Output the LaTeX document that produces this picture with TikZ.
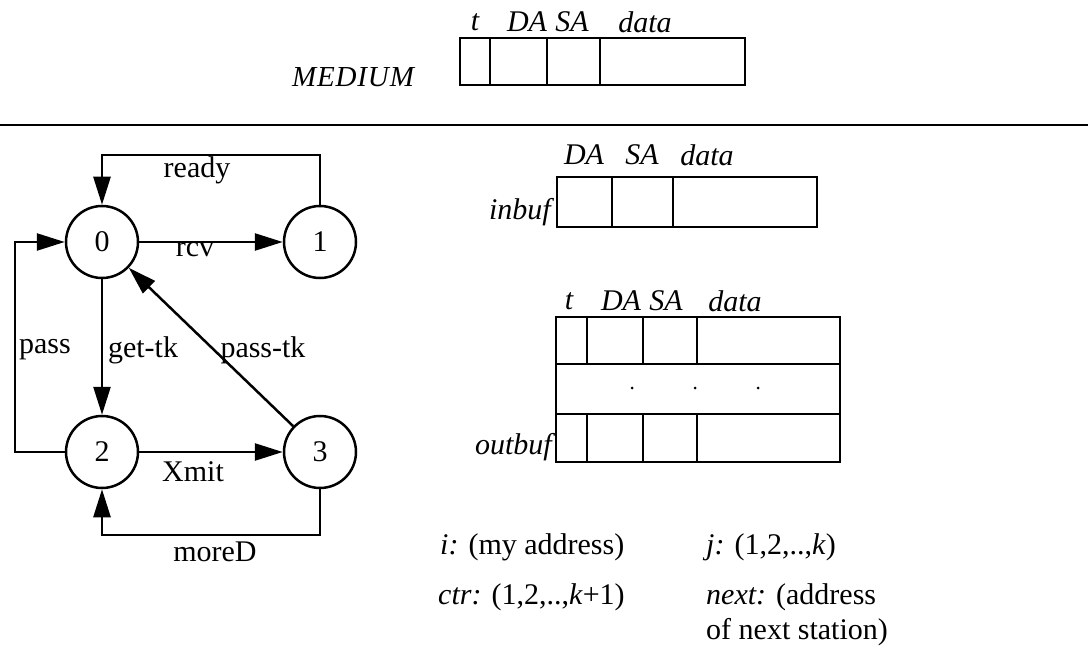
\documentclass[tikz,border=0pt]{standalone}
\usepackage{fontspec}
\setmainfont{Liberation Serif}
\newfontfamily\spacedit[LetterSpace=3]{Liberation Serif}
\usetikzlibrary{arrows.meta}
\begin{document}
\begin{tikzpicture}[x=1pt,y=-1pt,
  txt/.style={font=\fontsize{30}{35}\selectfont, inner sep=0pt},
  itx/.style={font=\fontsize{30}{35}\selectfont\itshape, inner sep=0pt},
  state/.style={circle,draw,line width=2.5pt,minimum size=72pt,inner sep=0pt,font=\fontsize{30}{35}\selectfont},
  arr/.style={line width=2.5pt,-{Triangle[length=28pt,width=17pt]}},
  ln/.style={line width=2.5pt},
  fbox/.style={draw,line width=2.5pt}]
\useasboundingbox (0,0) rectangle (1088,655);

% ---------- top: medium ----------
\node[itx] (medl) at (353,77) {\fontsize{29}{35}\spacedit\itshape MEDIUM};
\draw[fbox] (460,38) rectangle (745,85);
\draw[ln] (490,38) -- (490,85) (547,38) -- (547,85) (600,38) -- (600,85);
\node[itx] (mt) at (475,22) {t};
\node[itx] (mda) at (527,22) {DA};
\node[itx] (msa) at (572,22) {SA};
\node[itx] (mdata) at (645,22) {data};

\draw[ln] (0,125) -- (1088,125);

% ---------- state machine ----------
\node[state] (n0) at (102,242) {0};
\node[state] (n1) at (320,242) {1};
\node[state] (n2) at (102,452) {2};
\node[state] (n3) at (320,452) {3};
\coordinate (top) at (0,155);
\coordinate (lft) at (15,0);
\coordinate (bot) at (0,535);

\draw[arr] (n1.north) -- (n1.north |- top) -- (n0.north |- top) -- (n0.north);
\draw[arr] (n0) -- (n1);
\draw[arr] (n2.west) -- (n2.west -| lft) -- (n0.west -| lft) -- (n0.west);
\draw[arr] (n0) -- (n2);
\draw[arr] (n3) -- (n0);
\draw[arr] (n2) -- (n3);
\draw[arr] (n3.south) -- (n3.south |- bot) -- (n2.south |- bot) -- (n2.south);

\node[txt] (lready) at (197,170) {ready};
\node[txt] (lrcv) at (195,250) {rcv};
\node[txt] (lpass) at (45,350) {pass};
\node[txt] (lget) at (143,350) {get-tk};
\node[txt] (lptk) at (263,350) {pass-tk};
\node[txt] (lxmit) at (193,472) {Xmit};
\node[txt] (lmore) at (215,552) {moreD};

% ---------- inbuf ----------
\draw[fbox] (557,177) rectangle (817,227);
\draw[ln] (612,177) -- (612,227) (673,177) -- (673,227);
\node[itx] (ida) at (584,155) {DA};
\node[itx] (isa) at (642,155) {SA};
\node[itx] (idata) at (707,155) {data};
\node[itx,anchor=east] (inl) at (551,212) {inbuf};

% ---------- outbuf ----------
\draw[fbox] (556,317) rectangle (840,462);
\draw[ln] (556,364) -- (840,364) (556,414) -- (840,414);
\foreach \xx in {587,643,697}{
  \draw[ln] (\xx,317) -- (\xx,364) (\xx,414) -- (\xx,462);
}
\foreach \xx in {632,695,758}{
  \fill (\xx,388) circle (1.5pt);
}
\node[itx] (ot) at (569,301) {t};
\node[itx] (oda) at (621,301) {DA};
\node[itx] (osa) at (666,301) {SA};
\node[itx] (odata) at (735,301) {data};
\node[itx,anchor=east] (outl) at (552,447) {outbuf};

% ---------- variables ----------
\node[txt,anchor=west] (vi) at (440,547) {\textit{i:} (my address)};
\node[txt,anchor=west] (vj) at (706,547) {\textit{j:} (1,2,..,\textit{k})};
\node[txt,anchor=west] (vc) at (438,597) {\textit{ctr:} (1,2,..,\textit{k}+1)};
\node[txt,anchor=west] (vn1) at (706,597) {\textit{next:} (address};
\node[txt,anchor=west] (vn2) at (706,632) {of next station)};
\end{tikzpicture}
\end{document}
